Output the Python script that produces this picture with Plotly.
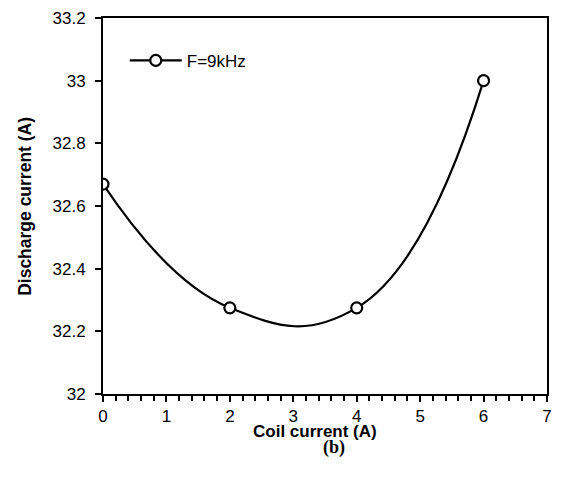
import plotly.graph_objects as go

coil_current = [0, 2, 4, 6]
discharge_current = [32.67, 32.275, 32.275, 33.0]
series_name = "F=9kHz"
x_ticks = [0, 1, 2, 3, 4, 5, 6, 7]
y_ticks = [32, 32.2, 32.4, 32.6, 32.8, 33, 33.2]
y_tick_labels = ["32", "32.2", "32.4", "32.6", "32.8", "33", "33.2"]

FONT = "Liberation Sans, Arial, sans-serif"

fig = go.Figure()
fig.add_trace(go.Scatter(
    x=coil_current, y=discharge_current, name=series_name,
    mode="lines+markers",
    line=dict(color="black", width=2.2, shape="spline", smoothing=1.3),
    marker=dict(symbol="circle", size=11, color="white",
                line=dict(color="black", width=2.2)),
))

fig.update_layout(
    width=561, height=477,
    margin=dict(l=103, r=9, t=16, b=83),
    paper_bgcolor="white", plot_bgcolor="white",
    font=dict(family=FONT, size=16, color="black"),
    showlegend=True,
    legend=dict(x=0.049, y=0.886, xanchor="left", yanchor="middle",
                itemwidth=52,
                bgcolor="rgba(0,0,0,0)", font=dict(size=17, family=FONT)),
    xaxis=dict(range=[0, 7], tickvals=x_ticks, ticktext=[str(v) for v in x_ticks],
               showgrid=False, zeroline=False,
               showline=True, linecolor="black", linewidth=2, mirror=True,
               ticks="outside", ticklen=6, tickwidth=1.5, tickcolor="black",
               minor=dict(dtick=0.2, ticks="outside", ticklen=5, tickwidth=1.5,
                          tickcolor="black", showgrid=False),
               tickfont=dict(size=17, family=FONT), ticklabelstandoff=0),
    yaxis=dict(range=[32, 33.2], tickvals=y_ticks, ticktext=y_tick_labels,
               showgrid=False, zeroline=False,
               showline=True, linecolor="black", linewidth=2, mirror=True,
               ticks="outside", ticklen=6, tickwidth=1.5, tickcolor="black",
               tickfont=dict(size=17, family=FONT), ticklabelstandoff=6),
    annotations=[
        dict(text="<b>Coil current (A)</b>", xref="paper", yref="paper",
             x=0.478, y=-0.099, xanchor="center", yanchor="middle",
             showarrow=False, font=dict(size=17, family=FONT)),
        dict(text="<b>(b)</b>", xref="paper", yref="paper",
             x=0.521, y=-0.142, xanchor="center", yanchor="middle",
             showarrow=False, font=dict(size=18, family="Liberation Serif, Times New Roman, serif")),
        dict(text="<b>Discharge current (A)</b>", xref="paper", yref="paper",
             x=-0.176, y=0.5, xanchor="center", yanchor="middle", textangle=-90,
             showarrow=False, font=dict(size=17.5, family=FONT)),
    ],
)

fig.write_html("out.html")
